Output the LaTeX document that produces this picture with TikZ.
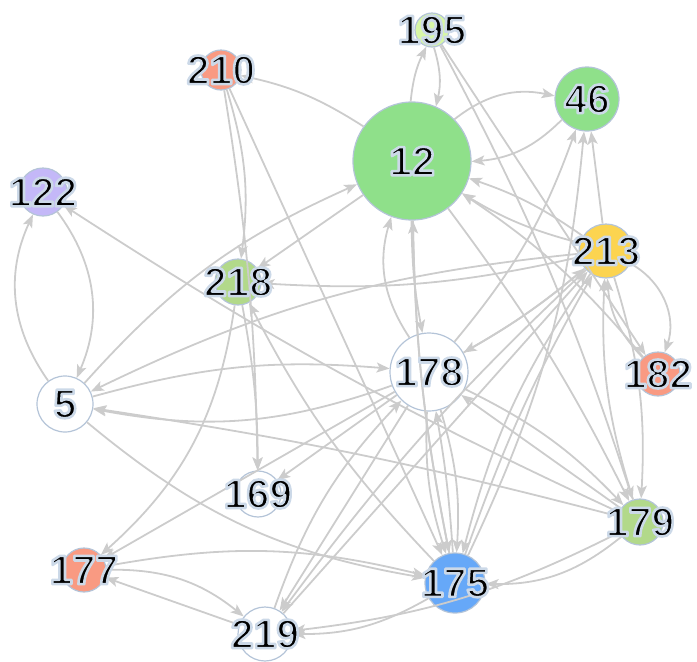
\documentclass[tikz,border=0pt]{standalone}
\usepackage{fontspec}
\setmainfont{Liberation Sans}
\usetikzlibrary{arrows.meta}
\definecolor{edgec}{HTML}{CCCCCC}
\definecolor{bordc}{HTML}{B4C4D8}
\definecolor{cgreen}{HTML}{8FE08A}
\definecolor{cpale}{HTML}{D8F7A6}
\definecolor{csalmon}{HTML}{F99A82}
\definecolor{clav}{HTML}{C4B8F8}
\definecolor{cgold}{HTML}{FCD450}
\definecolor{colive}{HTML}{B2D98A}
\definecolor{cblue}{HTML}{66A8F8}
\newcommand{\halotext}[1]{\special{pdf:literal direct 2 Tr 2.6 w 1 j 0.80 0.85 0.91 RG}#1\special{pdf:literal direct 0 Tr}}
\begin{document}
\begin{tikzpicture}[x=1pt,y=-1pt,
  vtx/.style={circle, draw=bordc, line width=1.2pt, inner sep=0pt, minimum size=#1},
  lbl/.style={font=\fontsize{41}{41}\selectfont\bfseries, text=black, inner sep=0pt},
  edge/.style={draw=edgec, line width=1.8pt, -{Stealth[length=13pt,width=10pt,inset=3pt]}}]
\useasboundingbox (0,0) rectangle (697,662);
% vertices
\node[vtx=34pt,  fill=cpale]   (n195) at (432,30) {};
\node[vtx=40pt,  fill=csalmon] (n210) at (221,70) {};
\node[vtx=64pt,  fill=cgreen]  (n46)  at (587,99) {};
\node[vtx=118pt, fill=cgreen]  (n12)  at (412,161) {};
\node[vtx=48pt,  fill=clav]    (n122) at (43,192) {};
\node[vtx=54pt,  fill=cgold]   (n213) at (606,251) {};
\node[vtx=46pt,  fill=colive]  (n218) at (238,282) {};
\node[vtx=78pt,  fill=white]   (n178) at (429,372) {};
\node[vtx=44pt,  fill=csalmon] (n182) at (658,374) {};
\node[vtx=56pt,  fill=white]   (n5)   at (65,404) {};
\node[vtx=46pt,  fill=white]   (n169) at (258,494) {};
\node[vtx=46pt,  fill=colive]  (n179) at (640,522) {};
\node[vtx=44pt,  fill=csalmon] (n177) at (84,570) {};
\node[vtx=60pt,  fill=cblue]   (n175) at (455,583) {};
\node[vtx=54pt,  fill=white]   (n219) at (265,634) {};
% edges
\draw[edge] (n5) to[bend left=30] (n122);
\draw[edge] (n122) to[bend left=30] (n5);
\draw[edge] (n179) to[bend left=4] (n122);
\draw[edge] (n12) to[bend right=10] (n210);
\draw[edge] (n210) to[bend left=12] (n218);
\draw[edge] (n210) to[bend left=4] (n169);
\draw[edge] (n210) -- (n175);
\draw[edge] (n5) to[bend left=12] (n12);
\draw[edge] (n12) to[bend left=25] (n46);
\draw[edge] (n46) to[bend left=20] (n12);
\draw[edge] (n12) to[bend left=10] (n195);
\draw[edge] (n195) to[bend left=15] (n12);
\draw[edge] (n178) to[bend left=25] (n12);
\draw[edge] (n213) to[bend right=8] (n12);
\draw[edge] (n213) to[bend left=8] (n12);
\draw[edge] (n182) to[bend right=8] (n12);
\draw[edge] (n175) to[bend left=5] (n12);
\draw[edge] (n213) to[bend left=8] (n218);
\draw[edge] (n12) -- (n218);
\draw[edge] (n175) to[bend left=8] (n218);
\draw[edge] (n218) to[bend left=5] (n169);
\draw[edge] (n213) to[bend right=10] (n5);
\draw[edge] (n178) to[bend left=15] (n5);
\draw[edge] (n5) to[bend left=10] (n178);
\draw[edge] (n179) to[bend right=3] (n5);
\draw[edge] (n5) to[bend right=15] (n175);
\draw[edge] (n177) to[bend left=12] (n175);
\draw[edge] (n177) to[bend left=20] (n219);
\draw[edge] (n219) -- (n177);
\draw[edge] (n218) to[bend left=20] (n177);
\draw[edge] (n178) -- (n177);
\draw[edge] (n219) to[bend left=12] (n178);
\draw[edge] (n175) to[bend left=15] (n219);
\draw[edge] (n179) to[bend left=10] (n219);
\draw[edge] (n213) to[bend right=5] (n219);
\draw[edge] (n178) -- (n219);
\draw[edge] (n178) to[bend right=10] (n175);
\draw[edge] (n178) to[bend left=10] (n175);
\draw[edge] (n12) to[bend right=5] (n175);
\draw[edge] (n213) to[bend right=10] (n175);
\draw[edge] (n179) to[bend left=20] (n175);
\draw[edge] (n12) to[bend right=5] (n178);
\draw[edge] (n213) to[bend left=5] (n178);
\draw[edge] (n179) -- (n178);
\draw[edge] (n175) to[bend right=3] (n178);
\draw[edge] (n178) -- (n169);
\draw[edge] (n178) to[bend left=10] (n179);
\draw[edge] (n178) to[bend right=10] (n46);
\draw[edge] (n178) to[bend right=5] (n213);
\draw[edge] (n213) to[bend left=40] (n182);
\draw[edge] (n182) to[bend left=20] (n213);
\draw[edge] (n213) -- (n46);
\draw[edge] (n175) to[bend right=10] (n46);
\draw[edge] (n175) to[bend left=5] (n213);
\draw[edge] (n219) -- (n213);
\draw[edge] (n213) to[bend left=10] (n179);
\draw[edge] (n179) to[bend left=10] (n213);
\draw[edge] (n12) to[bend left=5] (n179);
\draw[edge] (n195) to[bend left=5] (n179);
\draw[edge] (n195) -- (n182);
% labels
\foreach \n in {195,210,46,12,122,213,218,178,182,5,169,179,177,175,219}
  \node[lbl] (l\n) at (n\n) {\halotext{\n}};
\end{tikzpicture}
\end{document}
